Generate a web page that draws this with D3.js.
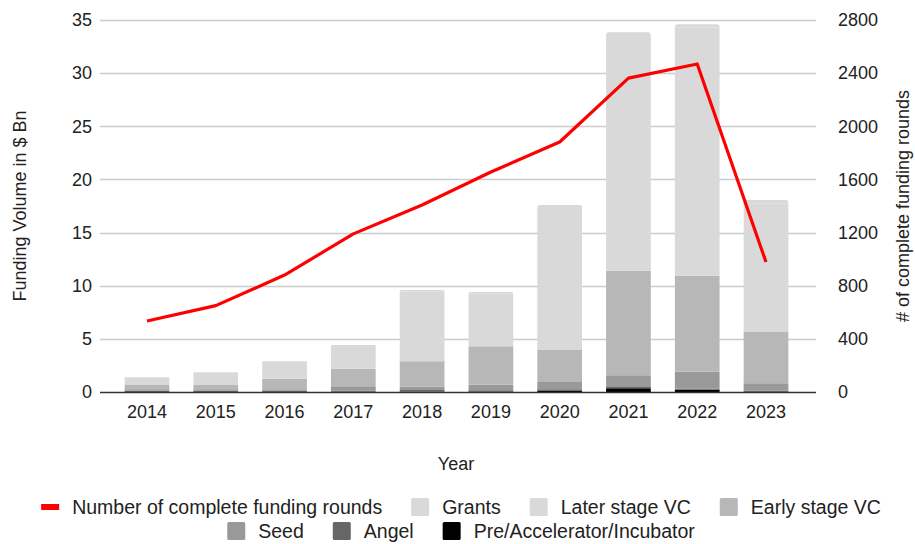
<!DOCTYPE html>
<html>
<head>
<meta charset="utf-8">
<script src="https://cdn.jsdelivr.net/npm/d3@7"></script>
<style>
  html, body { margin: 0; padding: 0; background: #fff; }
  svg { display: block; font-family: "Liberation Sans", Arial, sans-serif; }
</style>
</head>
<body>
<svg id="chart" width="915" height="544"></svg>
<script>
// Funding volume by stage ($ Bn) and number of completed funding rounds
const years = ["2014", "2015", "2016", "2017", "2018", "2019", "2020", "2021", "2022", "2023"];

const preAccelerator = [0.01, 0.01, 0.01, 0.02, 0.03, 0.04, 0.15, 0.35, 0.22, 0.04];
const angel          = [0.10, 0.10, 0.10, 0.12, 0.15, 0.12, 0.10, 0.12, 0.12, 0.08];
const seed           = [0.14, 0.14, 0.14, 0.39, 0.32, 0.53, 0.69, 1.10, 1.57, 0.70];
const earlyStageVC   = [0.41, 0.41, 1.00, 1.66, 2.40, 3.61, 3.01, 9.84, 9.03, 4.82];
const laterStageVC   = [0.70, 1.17, 1.59, 2.13, 6.55, 4.95, 13.45, 22.18, 23.36, 12.12];
const grants         = [0.05, 0.05, 0.08, 0.10, 0.15, 0.15, 0.20, 0.25, 0.30, 0.30];

const fundingRounds  = [534, 650, 880, 1190, 1408, 1656, 1882, 2363, 2469, 978];

const leftTicks  = [0, 5, 10, 15, 20, 25, 30, 35];
const rightTicks = [0, 400, 800, 1200, 1600, 2000, 2400, 2800];

// stack order bottom → top
const seriesDefs = [
  { key: "pre",    name: "Pre/Accelerator/Incubator", values: preAccelerator, color: "#000000" },
  { key: "angel",  name: "Angel",                     values: angel,          color: "#666666" },
  { key: "seed",   name: "Seed",                      values: seed,           color: "#999999" },
  { key: "early",  name: "Early stage VC",            values: earlyStageVC,   color: "#b7b7b7" },
  { key: "later",  name: "Later stage VC",            values: laterStageVC,   color: "#d9d9d9" },
  { key: "grants", name: "Grants",                    values: grants,         color: "#d9d9d9" }
];

const svg = d3.select("#chart");
const plot = { left: 100, right: 816, top: 20, bottom: 392 };

const x = d3.scaleBand().domain(years).range([112.6, 800.4]).paddingInner(0.35).paddingOuter(0.175);
const yL = d3.scaleLinear().domain([0, 35]).range([plot.bottom, plot.top]);
const yR = d3.scaleLinear().domain([0, 2800]).range([plot.bottom, plot.top]);

const textColor = "#222";
const fontSize = 18;
const legendFontSize = 19.5;

// gridlines
svg.append("g").selectAll("line").data(leftTicks.filter(d => d > 0)).join("line")
  .attr("x1", plot.left).attr("x2", plot.right)
  .attr("y1", d => Math.round(yL(d)) + 0.5).attr("y2", d => Math.round(yL(d)) + 0.5)
  .attr("stroke", "#cccccc").attr("stroke-width", 1.3);

// stacked bars
const rows = years.map((yr, i) => {
  const r = { year: yr };
  seriesDefs.forEach(s => r[s.key] = s.values[i]);
  return r;
});
const stack = d3.stack().keys(seriesDefs.map(s => s.key));
const stacked = stack(rows);
const topKey = seriesDefs[seriesDefs.length - 1].key;

function segPath(x0, w, yTop, yBot, r) {
  if (r <= 0) return `M${x0},${yBot}V${yTop}H${x0 + w}V${yBot}Z`;
  r = Math.min(r, (yBot - yTop));
  return `M${x0},${yBot}V${yTop + r}Q${x0},${yTop} ${x0 + r},${yTop}H${x0 + w - r}Q${x0 + w},${yTop} ${x0 + w},${yTop + r}V${yBot}Z`;
}

const barsG = svg.append("g");
stacked.forEach((layer, li) => {
  const def = seriesDefs[li];
  barsG.append("g").selectAll("path").data(layer).join("path")
    .attr("fill", def.color)
    .attr("d", d => {
      const yTop = yL(d[1]), yBot = yL(d[0]);
      return segPath(x(d.data.year), x.bandwidth(), yTop, yBot, def.key === topKey ? 3 : 0);
    });
});

// baseline
svg.append("line")
  .attr("x1", plot.left).attr("x2", plot.right)
  .attr("y1", plot.bottom + 0.5).attr("y2", plot.bottom + 0.5)
  .attr("stroke", "#333").attr("stroke-width", 1.6);

// left axis
const axisL = d3.axisLeft(yL).tickValues(leftTicks).tickSize(0).tickPadding(0);
const gL = svg.append("g").attr("transform", `translate(${plot.left - 8},0)`).call(axisL);
gL.select(".domain").remove();
gL.selectAll("text").attr("font-size", fontSize).attr("fill", textColor)
  .attr("font-family", "Liberation Sans, Arial, sans-serif");

// right axis
const axisR = d3.axisRight(yR).tickValues(rightTicks).tickFormat(d3.format("d"))
  .tickSize(0).tickPadding(0);
const gR = svg.append("g").attr("transform", `translate(${plot.right + 22},0)`).call(axisR);
gR.select(".domain").remove();
gR.selectAll("text").attr("font-size", fontSize).attr("fill", textColor)
  .attr("font-family", "Liberation Sans, Arial, sans-serif");

// bottom axis
const axisB = d3.axisBottom(x).tickSize(0).tickPadding(0);
const gB = svg.append("g").attr("transform", `translate(0,${plot.bottom + 13})`).call(axisB);
gB.select(".domain").remove();
gB.selectAll("text").attr("font-size", fontSize).attr("fill", textColor)
  .attr("font-family", "Liberation Sans, Arial, sans-serif");

// rounds line
const line = d3.line()
  .x((d, i) => x(years[i]) + x.bandwidth() / 2)
  .y(d => yR(d));
svg.append("path").datum(fundingRounds)
  .attr("d", line).attr("fill", "none")
  .attr("stroke", "#ff0000").attr("stroke-width", 3.2)
  .attr("stroke-linejoin", "round");

// axis titles
svg.append("text").attr("transform", `translate(26,${(plot.top + plot.bottom) / 2}) rotate(-90)`)
  .attr("text-anchor", "middle").attr("font-size", fontSize).attr("fill", textColor)
  .text("Funding Volume in $ Bn");
svg.append("text").attr("transform", `translate(909,${(plot.top + plot.bottom) / 2}) rotate(-90)`)
  .attr("text-anchor", "middle").attr("font-size", fontSize).attr("fill", textColor)
  .text("# of complete funding rounds");
svg.append("text").attr("x", 456).attr("y", 470)
  .attr("text-anchor", "middle").attr("font-size", fontSize).attr("fill", textColor)
  .text("Year");

// legend
const legendRows = [
  [
    { name: "Number of complete funding rounds", color: "#ff0000", line: true },
    { name: "Grants", color: "#d9d9d9" },
    { name: "Later stage VC", color: "#d9d9d9" },
    { name: "Early stage VC", color: "#b7b7b7" }
  ],
  [
    { name: "Seed", color: "#999999" },
    { name: "Angel", color: "#666666" },
    { name: "Pre/Accelerator/Incubator", color: "#000000" }
  ]
];
const legendY = [507, 531];
const sw = 18, swGap = 13, itemGap = 29, centerX = 461;
legendRows.forEach((items, ri) => {
  const g = svg.append("g");
  let cx = 0;
  items.forEach(it => {
    const ig = g.append("g").attr("transform", `translate(${cx},0)`);
    if (it.line) {
      ig.append("rect").attr("x", 0).attr("y", legendY[ri] - 3).attr("width", sw).attr("height", 6)
        .attr("fill", it.color);
    } else {
      ig.append("rect").attr("x", 0).attr("y", legendY[ri] - sw / 2).attr("width", sw).attr("height", sw)
        .attr("rx", 1.5).attr("fill", it.color);
    }
    const t = ig.append("text").attr("x", sw + swGap).attr("y", legendY[ri])
      .attr("dy", "0.35em").attr("font-size", legendFontSize).attr("fill", textColor).text(it.name);
    cx += sw + swGap + t.node().getComputedTextLength() + itemGap;
  });
  const total = cx - itemGap;
  g.attr("transform", `translate(${centerX - total / 2},0)`);
});
</script>
</body>
</html>
